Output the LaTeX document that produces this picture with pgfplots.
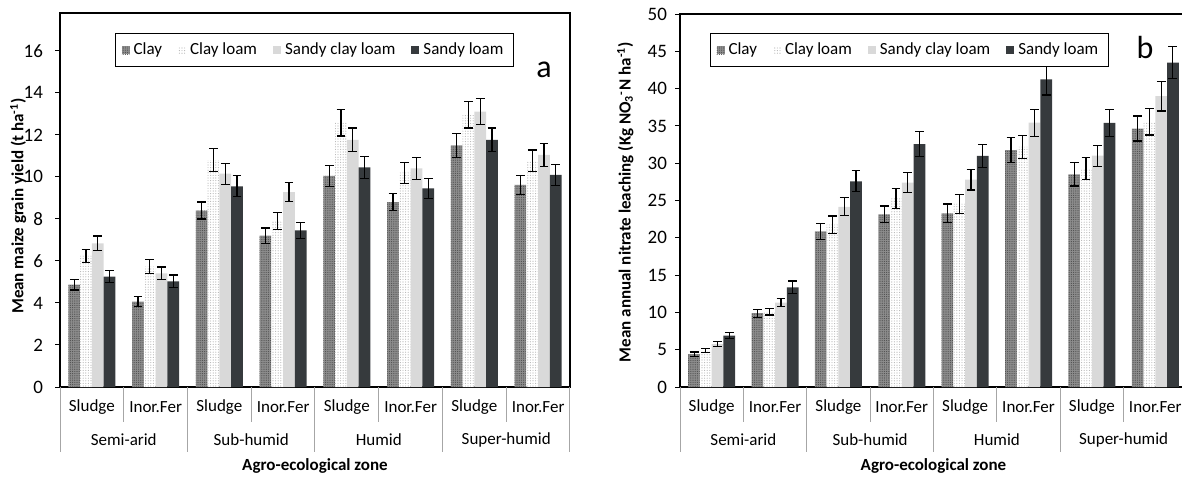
\documentclass[border=0pt]{standalone}
\usepackage{fontspec}
\setmainfont{Carlito}
\usepackage{pgfplots}
\usepackage{pgfplotstable}
\pgfplotsset{compat=1.18}
\usetikzlibrary{patterns.meta}

\definecolor{claycol}{HTML}{8C8C8C}
\definecolor{claydot}{HTML}{4F4F4F}
\definecolor{cldot}{HTML}{B5B5B5}
\definecolor{sclcol}{HTML}{D9D9D9}
\definecolor{slcol}{HTML}{363A3D}
\definecolor{divider}{HTML}{A6A6A6}

% x = category (0..7), then mean and error for each soil
\pgfplotstableread{
x clay clayE cl clE scl sclE sl slE
0 4.87 0.25 6.24 0.32 6.84 0.35 5.25 0.28
1 4.06 0.24 5.73 0.32 5.41 0.30 5.03 0.30
2 8.40 0.40 10.80 0.55 10.15 0.50 9.55 0.50
3 7.20 0.37 7.90 0.40 9.27 0.45 7.45 0.37
4 10.05 0.50 12.57 0.62 11.76 0.57 10.45 0.52
5 8.80 0.40 10.20 0.50 10.40 0.52 9.45 0.47
6 11.50 0.58 12.95 0.62 13.10 0.62 11.76 0.57
7 9.62 0.45 10.76 0.52 11.05 0.55 10.10 0.50
}\yielddata

\pgfplotstableread{
x clay clayE cl clE scl sclE sl slE
0 4.40 0.30 4.90 0.30 5.75 0.33 6.90 0.45
1 9.90 0.53 10.10 0.45 11.30 0.56 13.36 0.85
2 20.85 1.05 21.76 1.15 24.15 1.20 27.57 1.40
3 23.14 1.12 25.29 1.34 27.39 1.34 32.55 1.68
4 23.28 1.25 24.56 1.27 27.80 1.38 30.97 1.57
5 31.75 1.67 32.20 1.56 35.43 1.80 41.25 2.10
6 28.50 1.56 29.30 1.45 31.00 1.40 35.40 1.80
7 34.65 1.67 35.57 1.79 39.00 2.00 43.50 2.10
}\leachdata

\pgfplotsset{
  soilpanel/.style={
    scale only axis, anchor=south west,
    width=255pt, height=187pt,
    xmin=-0.5, xmax=7.5, ymin=0,
    xtick=\empty,
    ytick pos=left, tick align=outside, major tick length=2.5pt,
    ybar, bar width=0.185,
    clip=false,
    axis line style={line width=0.6pt},
    tick style={line width=0.5pt, black},
    /pgf/number format/assume math mode=true,
    tick label style={font=\fontsize{9.5}{11}\selectfont},
    ylabel style={font=\bfseries\fontsize{8.5}{10}\selectfont, anchor=center},
    legend columns=4,
    legend cell align=left,
    legend style={anchor=north west, draw=black, line width=0.6pt,
      font=\fontsize{8.5}{9.5}\selectfont, inner xsep=3pt, inner ysep=2.5pt,
      /tikz/every even column/.append style={column sep=6pt}},
    legend image code/.code={\fill[##1] (0pt,-2pt) rectangle (4pt,2pt);},
  },
  eb/.style={error bars/.cd, y dir=both, y explicit,
    error bar style={line width=0.6pt, black},
    error mark options={rotate=90, mark size=2.2pt, line width=0.6pt, black}},
  claybar/.style={fill=claycol, draw=none,
    postaction={pattern={Dots[distance=1.1pt,radius=0.3pt]}, pattern color=claydot}},
  clbar/.style={fill=white, draw=none,
    postaction={pattern={Dots[distance=1.3pt,radius=0.28pt]}, pattern color=cldot}},
  sclbar/.style={fill=sclcol, draw=none},
  slbar/.style={fill=slcol, draw=none},
}

\newcommand{\catdecor}{%
  \pgfplotsinvokeforeach{0,2,4,6}{\node[font=\fontsize{8.5}{9.5}\selectfont] at ([yshift=-10pt]axis cs:##1,0) {Sludge};}
  \pgfplotsinvokeforeach{1,3,5,7}{\node[font=\fontsize{8.5}{9.5}\selectfont] at ([yshift=-10pt]axis cs:##1,0) {Inor.Fer};}
  \pgfplotsinvokeforeach{0.5,2.5,4.5,6.5}{\draw[divider, line width=0.5pt] (axis cs:##1,0) -- ([yshift=-17.5pt]axis cs:##1,0);}
  \pgfplotsinvokeforeach{-0.5,1.5,3.5,5.5,7.5}{\draw[divider, line width=0.5pt] (axis cs:##1,0) -- ([yshift=-32.5pt]axis cs:##1,0);}
  \node[font=\fontsize{8.5}{9.5}\selectfont] at ([yshift=-26.5pt]axis cs:0.5,0) {Semi-arid};
  \node[font=\fontsize{8.5}{9.5}\selectfont] at ([yshift=-26.5pt]axis cs:2.5,0) {Sub-humid};
  \node[font=\fontsize{8.5}{9.5}\selectfont] at ([yshift=-26.5pt]axis cs:4.5,0) {Humid};
  \node[font=\fontsize{8.5}{9.5}\selectfont] at ([yshift=-26.5pt]axis cs:6.5,0) {Super-humid};
  \node[font=\bfseries\fontsize{8.5}{10}\selectfont] at ([yshift=-39.5pt]axis description cs:0.5,0) {Agro-ecological zone};
}

\begin{document}
\begin{tikzpicture}
\useasboundingbox (0,0) rectangle (591pt,238.5pt);

% panel a: grain yield
\begin{axis}[soilpanel,
  at={(30pt,45pt)},
  ymax=17.8, ytick={0,2,...,16},
  yticklabel style={xshift=-2.5pt},
  ylabel={Mean maize grain yield (t ha\textsuperscript{-1})},
  ylabel style={at={(axis description cs:-0.082,0.484)}},
  legend style={at={(0.108,0.9465)}},
  ]
  \addplot[claybar, bar shift=-0.2775, eb] table[x=x, y=clay, y error=clayE] {\yielddata};
  \addplot[clbar, bar shift=-0.0925, eb] table[x=x, y=cl, y error=clE] {\yielddata};
  \addplot[sclbar, bar shift=0.0925, eb] table[x=x, y=scl, y error=sclE] {\yielddata};
  \addplot[slbar, bar shift=0.2775, eb] table[x=x, y=sl, y error=slE] {\yielddata};
  \legend{Clay, Clay loam, Sandy clay loam, Sandy loam}
  \catdecor
\end{axis}

% panel b: nitrate leaching
\begin{axis}[soilpanel,
  at={(340pt,45pt)}, width=253.5pt, height=186.5pt,
  ymax=50, ytick={0,5,...,50},
  yticklabel style={xshift=-0.5pt},
  ylabel={Mean annual nitrate leaching (Kg NO\textsubscript{3}\textsuperscript{-}N ha\textsuperscript{-1})},
  ylabel style={at={(axis description cs:-0.108,0.496)}},
  legend style={at={(0.059,0.949)}},
  ]
  \addplot[claybar, bar shift=-0.2775, eb] table[x=x, y=clay, y error=clayE] {\leachdata};
  \addplot[clbar, bar shift=-0.0925, eb] table[x=x, y=cl, y error=clE] {\leachdata};
  \addplot[sclbar, bar shift=0.0925, eb] table[x=x, y=scl, y error=sclE] {\leachdata};
  \addplot[slbar, bar shift=0.2775, eb] table[x=x, y=sl, y error=slE] {\leachdata};
  \legend{Clay, Clay loam, Sandy clay loam, Sandy loam}
  \catdecor
\end{axis}

\node[font=\fontsize{16}{16}\selectfont] at (272pt,203.5pt) {a};
\node[font=\fontsize{16}{16}\selectfont] at (572.5pt,214.5pt) {b};
\end{tikzpicture}
\end{document}
